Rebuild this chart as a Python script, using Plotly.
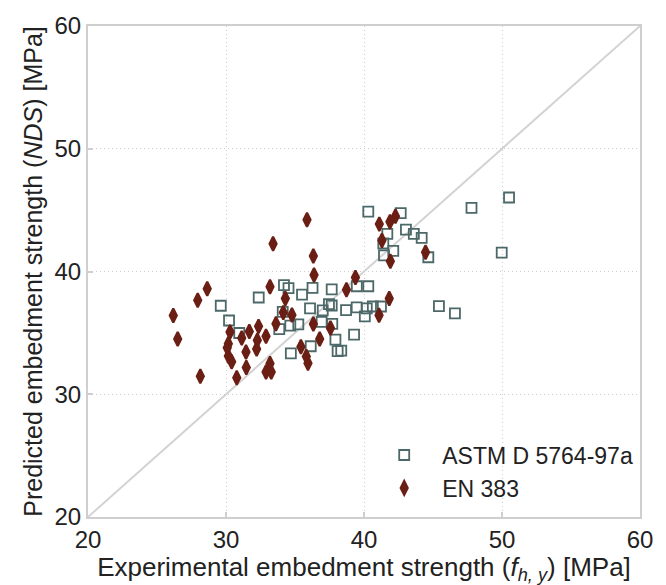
import plotly.graph_objects as go

# ASTM D 5764-97a (open squares)
astm_x = [29.62, 30.22, 30.96, 32.37, 33.86, 34.11, 34.20, 34.53, 34.66, 34.70,
          35.24, 35.51, 36.09, 36.14, 36.27, 36.93, 37.01, 37.66, 37.66, 37.46,
          37.70, 37.93, 38.09, 38.35, 38.70, 39.28, 39.48, 39.47, 40.06, 40.20,
          40.31, 40.64, 41.23, 40.31, 41.40, 41.45, 41.69, 42.12, 42.66, 43.04,
          43.61, 44.18, 44.66, 45.43, 46.59, 47.79, 50.51, 49.98]
astm_y = [37.21, 36.01, 34.99, 37.88, 35.31, 36.71, 38.89, 38.64, 35.59, 33.33,
          35.70, 38.12, 36.99, 33.91, 38.66, 35.90, 36.83, 38.54, 37.23, 37.35,
          35.73, 34.45, 33.52, 33.56, 36.86, 34.85, 38.80, 37.07, 36.35, 36.99,
          38.80, 37.15, 37.15, 44.87, 42.28, 41.32, 43.06, 41.68, 44.75, 43.41,
          43.06, 42.74, 41.16, 37.18, 36.59, 45.19, 46.03, 41.54]

# EN 383 (filled diamonds)
en_x = [26.18, 26.50, 27.95, 28.64, 28.14, 30.29, 30.17, 30.09, 30.17, 30.41,
        30.78, 31.14, 31.69, 31.45, 31.47, 32.36, 32.27, 32.22, 32.90, 33.19,
        32.90, 33.28, 33.19, 33.41, 33.62, 34.30, 34.15, 34.78, 35.43, 35.82,
        35.94, 35.87, 36.33, 36.38, 36.33, 36.79, 37.57, 38.73, 39.38, 41.11,
        41.88, 42.28, 41.30, 41.91, 44.46, 41.83, 41.09]
en_y = [36.41, 34.51, 37.66, 38.60, 31.46, 35.07, 34.11, 33.79, 33.12, 32.64,
        31.34, 34.59, 35.11, 33.44, 32.18, 35.53, 34.39, 33.68, 34.73, 32.50,
        31.81, 31.81, 38.76, 42.26, 35.75, 37.80, 36.65, 36.46, 33.87, 33.07,
        32.52, 44.21, 41.27, 39.72, 35.73, 34.51, 35.39, 38.52, 39.52, 43.86,
        44.05, 44.51, 42.53, 40.84, 41.56, 37.80, 36.43]

# 1:1 reference line
diag = [20, 60]
tick_vals = [20, 30, 40, 50, 60]

FONT = "Liberation Sans, Arial, sans-serif"
TXT = "#222222"
FRAME = "#cfcfcf"

fig = go.Figure()
fig.add_trace(go.Scatter(x=diag, y=diag, mode="lines", showlegend=False,
                         line=dict(color="#d3d3d3", width=2), hoverinfo="skip"))
fig.add_trace(go.Scatter(x=astm_x, y=astm_y, mode="markers", name="ASTM D 5764-97a",
                         marker=dict(symbol="square-open", size=10, color="#4d6868",
                                     line=dict(width=1.8, color="#4d6868"))))
fig.add_trace(go.Scatter(x=en_x, y=en_y, mode="markers", name="EN 383",
                         marker=dict(symbol="diamond-tall", size=10, color="#6b1f14",
                                     line=dict(width=2.2, color="#6b1f14"))))

axis_common = dict(range=[20, 60], tickvals=tick_vals, showline=True, mirror=True,
                   linecolor=FRAME, linewidth=2, ticks="inside", ticklen=5,
                   tickcolor=FRAME, tickwidth=1.5, showgrid=True, gridcolor="#cccccc",
                   griddash="1px,3px", gridwidth=1, zeroline=False,
                   tickfont=dict(family=FONT, size=24, color=TXT))

fig.update_xaxes(**axis_common,
                 title=dict(text="Experimental embedment strength (<i>f</i><sub><i>h, y</i></sub>) [MPa]",
                            font=dict(family=FONT, size=26, color=TXT), standoff=2))
fig.update_yaxes(**axis_common,
                 title=dict(text="Predicted embedment strength (<i>NDS</i>) [MPa]",
                            font=dict(family=FONT, size=25, color=TXT), standoff=5))

fig.update_layout(
    width=666, height=585,
    margin=dict(l=88, r=26, t=18, b=68),
    paper_bgcolor="white", plot_bgcolor="white",
    font=dict(family=FONT, color=TXT),
    legend=dict(x=0.504, y=0.17, xanchor="left", yanchor="top",
                bgcolor="rgba(0,0,0,0)", font=dict(family=FONT, size=23, color=TXT),
                itemwidth=66),
)

fig.write_html("out.html")
